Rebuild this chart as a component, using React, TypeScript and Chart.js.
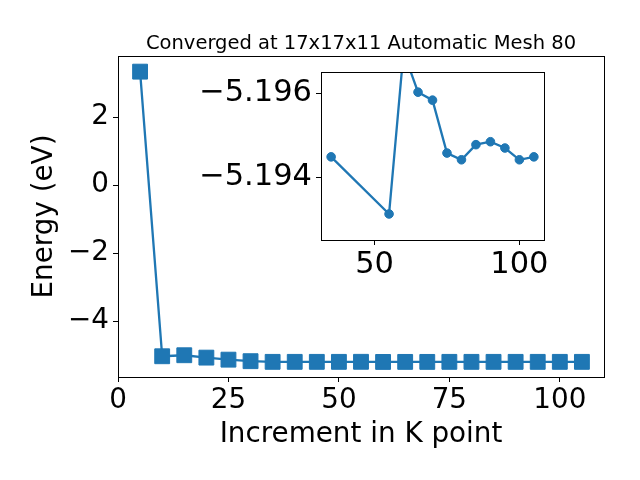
import React, { useEffect, useRef } from "react";
import { Chart, registerables } from "chart.js";

Chart.register(...registerables);

const kPoints = [5, 10, 15, 20, 25, 30, 35, 40, 45, 50, 55, 60, 65, 70, 75, 80, 85, 90, 95, 100, 105];
const energy = [3.34, -5.03, -5.0, -5.07, -5.13, -5.175, -5.1945, -5.1945, -5.1944, -5.1944, -5.1931, -5.197, -5.196, -5.1958, -5.1946, -5.1944, -5.1948, -5.1948, -5.1947, -5.1944, -5.1945];

const insetK = [35, 55, 60, 65, 70, 75, 80, 85, 90, 95, 100, 105];
const insetEnergy = [-5.19448, -5.19312, -5.19698, -5.19602, -5.19583, -5.19457, -5.19441, -5.19477, -5.19484, -5.19469, -5.19441, -5.19448];

const mainXTicks = [0, 25, 50, 75, 100];
const mainYTicks = [-4, -2, 0, 2];
const insetXTicks = [50, 100];
const insetYTicks = [-5.196, -5.194];

const titleText = "Converged at 17x17x11 Automatic Mesh 80";
const xLabel = "Increment in K point";
const yLabel = "Energy (eV)";

const BLUE = "#1f77b4";
const FONT = "'DejaVu Sans', sans-serif";

const fmt = (v: number, digits: number) => {
  const s = digits > 0 ? Math.abs(v).toFixed(digits) : String(Math.abs(v));
  return v < 0 ? "\u2212" + s : s;
};

const framePlugin = {
  id: "frame",
  beforeDatasetsDraw(chart: any, _a: any, opts: any) {
    if (opts && opts.fill) {
      const { left, top, right, bottom } = chart.chartArea;
      const ctx = chart.ctx;
      ctx.save();
      ctx.fillStyle = "#ffffff";
      ctx.fillRect(left, top, right - left, bottom - top);
      ctx.restore();
    }
  },
  afterDraw(chart: any, _a: any, opts: any) {
    const { left, top, right, bottom } = chart.chartArea;
    const ctx = chart.ctx;
    ctx.save();
    ctx.strokeStyle = "#000000";
    ctx.lineWidth = 1;
    ctx.strokeRect(Math.round(left) + 0.5, Math.round(top) + 0.5, Math.round(right - left), Math.round(bottom - top));
    if (opts && opts.title) {
      ctx.fillStyle = "#000000";
      ctx.font = `19.5px ${FONT}`;
      ctx.textAlign = "center";
      ctx.textBaseline = "alphabetic";
      ctx.fillText(opts.title, (left + right) / 2, 49);
    }
    ctx.restore();
  },
};

export default function App() {
  const mainRef = useRef<HTMLCanvasElement>(null);
  const insetRef = useRef<HTMLCanvasElement>(null);

  useEffect(() => {
    const tickGrid = {
      drawOnChartArea: false,
      drawTicks: true,
      tickLength: 5,
      color: "#000000",
      lineWidth: 1,
    };

    const main = new Chart(mainRef.current!, {
      type: "line",
      data: {
        datasets: [
          {
            data: kPoints.map((k, i) => ({ x: k, y: energy[i] })),
            borderColor: BLUE,
            backgroundColor: BLUE,
            borderWidth: 2.3,
            pointStyle: "rect",
            pointRadius: 10.5,
            pointBorderWidth: 1,
            pointBorderColor: BLUE,
            pointBackgroundColor: BLUE,
            tension: 0,
          },
        ],
      },
      options: {
        animation: false,
        responsive: false,
        events: [],
        layout: { padding: { left: 0, right: 36, top: 56, bottom: 0 } },
        plugins: {
          legend: { display: false },
          tooltip: { enabled: false },
          title: { display: false },
          frame: { fill: false, title: titleText },
        } as any,
        scales: {
          x: {
            type: "linear",
            min: 0,
            max: 110,
            afterFit: (s: any) => {
              s.height = 103;
            },
            afterBuildTicks: (s: any) => {
              s.ticks = mainXTicks.map((v) => ({ value: v }));
            },
            ticks: {
              color: "#000000",
              font: { family: FONT, size: 27.8 },
              padding: 2,
              maxRotation: 0,
              autoSkip: false,
              callback: (v: any) => fmt(Number(v), 0),
            },
            grid: tickGrid,
            border: { display: true, color: "#000000" },
            title: {
              display: true,
              text: xLabel,
              color: "#000000",
              font: { family: FONT, size: 27.8 },
              padding: { top: 0, bottom: 29 },
            },
          },
          y: {
            type: "linear",
            min: -5.64,
            max: 3.8,
            afterFit: (s: any) => {
              s.width = 118;
            },
            afterBuildTicks: (s: any) => {
              s.ticks = mainYTicks.map((v) => ({ value: v }));
            },
            ticks: {
              color: "#000000",
              font: { family: FONT, size: 27.8 },
              padding: 4,
              autoSkip: false,
              callback: (v: any) => fmt(Number(v), 0),
            },
            grid: tickGrid,
            border: { display: true, color: "#000000" },
            title: {
              display: true,
              text: yLabel,
              color: "#000000",
              font: { family: FONT, size: 27.8 },
              padding: { top: 28, bottom: 0 },
            },
          },
        },
      } as any,
      plugins: [framePlugin],
    });

    const inset = new Chart(insetRef.current!, {
      type: "line",
      data: {
        datasets: [
          {
            data: insetK.map((k, i) => ({ x: k, y: insetEnergy[i] })),
            borderColor: BLUE,
            backgroundColor: BLUE,
            borderWidth: 2.3,
            pointStyle: "circle",
            pointRadius: 4.3,
            pointBorderWidth: 1,
            pointBorderColor: BLUE,
            pointBackgroundColor: BLUE,
            tension: 0,
          },
        ],
      },
      options: {
        animation: false,
        responsive: false,
        events: [],
        layout: { padding: { left: 0, right: 96, top: 72, bottom: 190 } },
        plugins: {
          legend: { display: false },
          tooltip: { enabled: false },
          title: { display: false },
          frame: { fill: true },
        } as any,
        scales: {
          x: {
            type: "linear",
            min: 31.5,
            max: 108.5,
            afterFit: (s: any) => {
              s.height = 50;
            },
            afterBuildTicks: (s: any) => {
              s.ticks = insetXTicks.map((v) => ({ value: v }));
            },
            ticks: {
              color: "#000000",
              font: { family: FONT, size: 30.5 },
              padding: 2,
              maxRotation: 0,
              autoSkip: false,
              callback: (v: any) => fmt(Number(v), 0),
            },
            grid: tickGrid,
            border: { display: true, color: "#000000" },
          },
          y: {
            type: "linear",
            min: -5.1965,
            max: -5.1925,
            reverse: true,
            afterFit: (s: any) => {
              s.width = 321;
            },
            afterBuildTicks: (s: any) => {
              s.ticks = insetYTicks.map((v) => ({ value: v }));
            },
            ticks: {
              color: "#000000",
              font: { family: FONT, size: 30.5 },
              padding: 4,
              autoSkip: false,
              callback: (v: any) => fmt(Number(v), 3),
            },
            grid: tickGrid,
            border: { display: true, color: "#000000" },
          },
        },
      } as any,
      plugins: [framePlugin],
    });

    return () => {
      main.destroy();
      inset.destroy();
    };
  }, []);

  return (
    <div style={{ position: "fixed", left: 0, top: 0, width: 640, height: 480, background: "#ffffff" }}>
      <canvas ref={mainRef} width={640} height={480} style={{ position: "absolute", left: 0, top: 0, width: 640, height: 480 }} />
      <canvas ref={insetRef} width={640} height={480} style={{ position: "absolute", left: 0, top: 0, width: 640, height: 480 }} />
    </div>
  );
}
